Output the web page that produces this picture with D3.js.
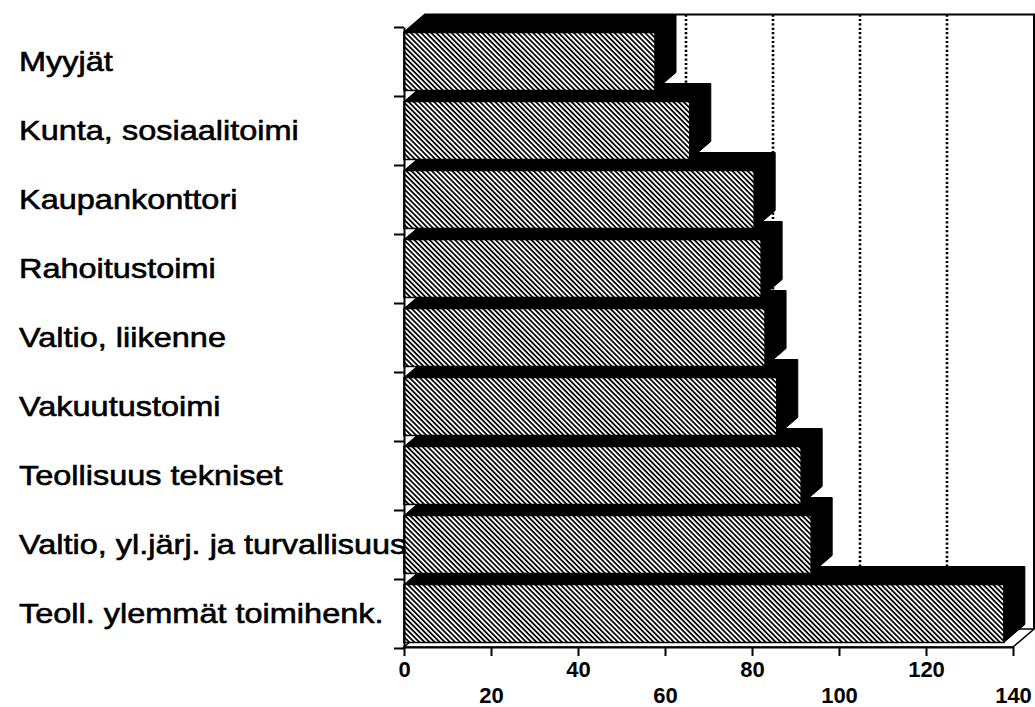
<!DOCTYPE html>
<html>
<head>
<meta charset="utf-8">
<script src="https://cdn.jsdelivr.net/npm/d3@7"></script>
<style>
  body { margin: 0; background: #fff; }
  .label { font-family: "Liberation Sans", Arial, sans-serif; font-size: 28px; fill: #000; stroke: #000; stroke-width: 0.6px; }
  .x-axis text { font-family: "Liberation Sans", Arial, sans-serif; font-size: 22px; font-weight: bold; fill: #000; }
</style>
</head>
<body>
<script>
const categories = [
  'Myyjät',
  'Kunta, sosiaalitoimi',
  'Kaupankonttori',
  'Rahoitustoimi',
  'Valtio, liikenne',
  'Vakuutustoimi',
  'Teollisuus tekniset',
  'Valtio, yl.järj. ja turvallisuus',
  'Teoll. ylemmät toimihenk.'
]
const values = [57.7, 65.7, 80.5, 82.1, 83.0, 85.7, 91.3, 93.6, 137.9]
const xTicks = [0, 20, 40, 60, 80, 100, 120, 140]

const fullWidth = 1035
const fullHeight = 707
const plotLeft = 404
const plotRight = 1013
const plotTop = 27
const plotBottom = 647
// 3d depth offset
const dx = 21
const dy = -18

const data = categories.map((c, i) => ({ name: c, value: values[i] }))

const x = d3.scaleLinear()
  .domain([0, 140])
  .range([plotLeft, plotRight])

const y = d3.scaleBand()
  .domain(categories)
  .range([plotTop, plotBottom + 1])
  .paddingInner(0.16)
  .paddingOuter(0.08)

// category boundaries for the left axis ticks
const yEdge = d3.scaleLinear()
  .domain([0, categories.length])
  .range([plotTop, plotBottom + 1])

const wallTop = y(categories[0]) + dy

const svg = d3.select('body')
  .append('svg')
  .attr('width', fullWidth)
  .attr('height', fullHeight)

const defs = svg.append('defs')
const hatch = defs.append('pattern')
  .attr('id', 'hatch')
  .attr('patternUnits', 'userSpaceOnUse')
  .attr('width', 3.6)
  .attr('height', 10)
  .attr('patternTransform', 'rotate(-45)')
hatch.append('rect')
  .attr('width', 3.6)
  .attr('height', 10)
  .attr('fill', '#fff')
hatch.append('line')
  .attr('x1', 0.9).attr('y1', 0)
  .attr('x2', 0.9).attr('y2', 10)
  .attr('stroke', '#000')
  .attr('stroke-width', 1.75)

// floor
svg.append('path')
  .attr('d', `M${x(0)},${plotBottom}L${x(140)},${plotBottom}L${x(140) + dx},${plotBottom + dy}L${x(0) + dx},${plotBottom + dy}Z`)
  .attr('fill', '#fff')
  .attr('stroke', '#000')
  .attr('stroke-width', 1.5)

// back wall frame
svg.append('path')
  .attr('d', `M${x(0)},${wallTop - dy}L${x(0) + dx},${wallTop}H${x(140) + dx}V${plotBottom + dy}`)
  .attr('fill', 'none')
  .attr('stroke', '#000')
  .attr('stroke-width', 2)

// dotted gridlines on the back wall
svg.append('g')
  .selectAll('line')
  .data(xTicks.filter(d => d > 0 && d < 140))
  .enter().append('line')
  .attr('x1', d => x(d) + dx)
  .attr('x2', d => x(d) + dx)
  .attr('y1', wallTop)
  .attr('y2', plotBottom + dy)
  .attr('stroke', '#000')
  .attr('stroke-width', 2.6)
  .attr('stroke-dasharray', '2.2,2.2')

// bars, bottom one first so the upper ones sit in front
const bars = svg.append('g')
  .selectAll('.bar')
  .data(data.slice().reverse())
  .enter().append('g')
  .attr('class', 'bar')

bars.append('path')
  .attr('d', d => {
    const x0 = x(0), x1 = x(d.value)
    const t = y(d.name), b = y(d.name) + y.bandwidth()
    return `M${x0},${t}L${x0 + dx},${t + dy}L${x1 + dx},${t + dy}L${x1 + dx},${b + dy}L${x1},${b}L${x0},${b}Z`
  })
  .attr('fill', '#000')
  .attr('stroke', '#000')
  .attr('stroke-width', 1)

bars.append('rect')
  .attr('x', x(0))
  .attr('y', d => y(d.name))
  .attr('width', d => x(d.value) - x(0))
  .attr('height', y.bandwidth())
  .attr('fill', 'url(#hatch)')
  .attr('stroke', '#000')
  .attr('stroke-width', 1.5)

// left axis
svg.append('g')
  .attr('transform', `translate(${plotLeft},0)`)
  .call(d3.axisLeft(yEdge)
    .tickValues(d3.range(categories.length + 1))
    .tickFormat('')
    .tickSize(10)
    .tickSizeOuter(0))
  .call(g => g.selectAll('path, line').attr('stroke', '#000').attr('stroke-width', 2))

// bottom axis, labels staggered on two rows
svg.append('g')
  .attr('class', 'x-axis')
  .attr('transform', `translate(0,${plotBottom})`)
  .call(d3.axisBottom(x)
    .tickValues(xTicks)
    .tickSize(9)
    .tickSizeOuter(0))
  .call(g => g.selectAll('path, line').attr('stroke', '#000').attr('stroke-width', 2))
  .call(g => g.selectAll('text')
    .attr('dy', null)
    .attr('y', (d, i) => i % 2 === 0 ? 30 : 56))

// category labels
svg.append('g')
  .selectAll('.label')
  .data(data)
  .enter().append('text')
  .attr('class', 'label')
  .attr('transform', d => `translate(19,${y(d.name) + y.bandwidth() / 2}) scale(1.16,1)`)
  .attr('dy', '0.35em')
  .text(d => d.name)
</script>
</body>
</html>
